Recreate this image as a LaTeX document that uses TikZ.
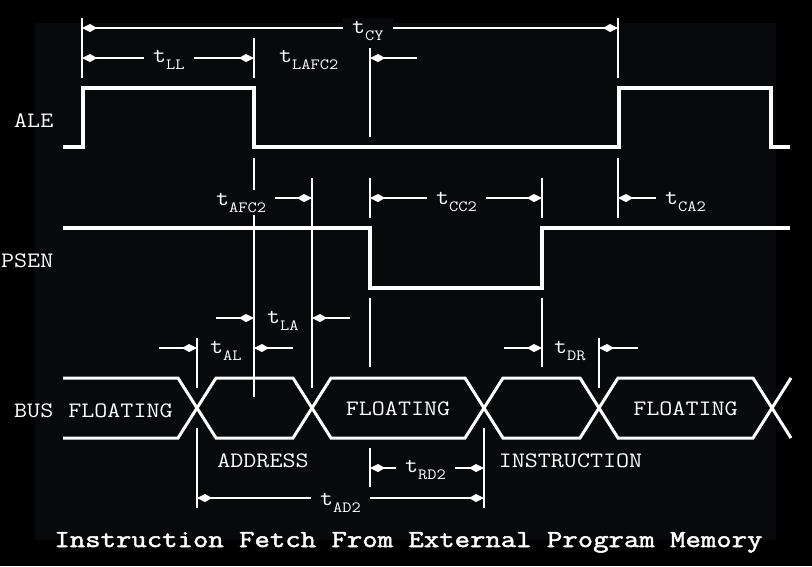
\documentclass[tikz,border=0pt]{standalone}
\usepackage{fontspec}
\setmainfont[FakeStretch=1.15]{Latin Modern Mono}
\newfontfamily\captionfont[FakeStretch=1.22, FakeBold=2]{Latin Modern Mono}
\usepackage{xcolor}
\usetikzlibrary{arrows.meta}
\definecolor{PanelBG}{RGB}{8,9,11}
\newcommand\tsub[1]{t\raisebox{-7pt}{\fontsize{15.6}{15.6}\selectfont #1}}

\begin{document}
\begin{tikzpicture}[
  x=1pt, y=-1pt,
  sig/.style={draw=white, line width=3.3pt, line join=miter},
  bus/.style={draw=white, line width=3pt, line join=miter},
  tick/.style={draw=white, line width=1.8pt},
  dim/.style={draw=white, line width=1.8pt, -{Kite[length=15pt, width=8pt, inset=7pt]}},
  dimboth/.style={draw=white, line width=1.8pt,
                  {Kite[length=15pt, width=8pt, inset=7pt]}-{Kite[length=15pt, width=8pt, inset=7pt]}},
  tlbl/.style={text=white, fill=PanelBG, inner xsep=9pt, inner ysep=3pt, anchor=base west,
               font=\fontsize{22}{22}\selectfont},
  signame/.style={text=white, inner sep=0pt, anchor=base east, font=\fontsize{22}{22}\selectfont},
  buslbl/.style={text=white, inner sep=0pt, anchor=base, font=\fontsize{22}{22}\selectfont},
]
\useasboundingbox (0,0) rectangle (812,566);
\fill[black] (0,0) rectangle (812,566);
\fill[PanelBG] (35,23) rectangle (776,540);

%% Signal names
\node[signame] (ale)  at (53.5,127) {ALE};
\node[signame] (psen) at (53.5,267) {PSEN};
\node[signame] (bus)  at (53.5,417) {BUS};

%% ALE and PSEN
\draw[sig] (63,147) -- (83,147) -- (83,88) -- (254,88) -- (254,147) -- (619,147)
  -- (619,88) -- (771,88) -- (771,147) -- (790,147);
\draw[sig] (63,228) -- (370,228) -- (370,288) -- (542,288) -- (542,228) -- (790,228);

%% Bus
\draw[bus] (63,378) -- (178,378) -- (216,438) -- (293,438) -- (331,378) -- (465,378)
  -- (503,438) -- (580,438) -- (618,378) -- (753,378) -- (791,438);
\draw[bus] (63,438) -- (178,438) -- (216,378) -- (293,378) -- (331,438) -- (465,438)
  -- (503,378) -- (580,378) -- (618,438) -- (753,438) -- (791,378);
\node[buslbl] (float1) at (120.5,417) {FLOATING};
\node[buslbl] (float2) at (398,415) {FLOATING};
\node[buslbl] (float3) at (685.5,415) {FLOATING};
\node[buslbl] (addr)   at (263,467) {ADDRESS};
\node[buslbl] (instr)  at (570.5,467) {INSTRUCTION};

%% Extension lines
\foreach \x/\ya/\yb in {82/18/78, 254/38/78, 370/48/137, 618/18/78,
                        254/158/397, 312/178/388, 370/178/218, 618/158/218, 542/178/218,
                        370/298/367, 542/298/367, 197/338/388, 599/338/388,
                        197/428/508, 370/448/487, 484/428/508}
  \draw[tick] (\x,\ya) -- (\x,\yb);

%% Dimension end points
\coordinate (cyA) at (82,28);   \coordinate (cyB) at (618,28);
\coordinate (llA) at (82,58);   \coordinate (llB) at (254,58);
\coordinate (ccA) at (370,198); \coordinate (ccB) at (542,198);
\coordinate (rdA) at (370,468); \coordinate (rdB) at (484,468);
\coordinate (adA) at (197,498); \coordinate (adB) at (484,498);

%% Two-sided dimensions
\draw[dimboth] (cyA) -- (cyB);
\draw[dimboth] (llA) -- (llB);
\draw[dimboth] (ccA) -- (ccB);
\draw[dimboth] (rdA) -- (rdB);
\draw[dimboth] (adA) -- (adB);

%% One-sided dimensions
\draw[dim] (417,58) -- (370,58);
\draw[dim] (274,198) -- (312,198);
\draw[dim] (657,198) -- (618,198);
\draw[dim] (216,318) -- (254,318);
\draw[dim] (350,318) -- (312,318);
\draw[dim] (159,348) -- (197,348);
\draw[dim] (293,348) -- (254,348);
\draw[dim] (504,348) -- (542,348);
\draw[dim] (638,348) -- (599,348);

%% Timing labels
\node[tlbl] (tcy)   at (343,33)  {\tsub{CY}};
\node[tlbl] (tll)   at (144,62)  {\tsub{LL}};
\node[tlbl] (tlafc) at (270,62)  {\tsub{LAFC2}};
\node[tlbl] (tafc)  at (207,205) {\tsub{AFC2}};
\node[tlbl] (tcc)   at (427,204) {\tsub{CC2}};
\node[tlbl] (tca)   at (656,204) {\tsub{CA2}};
\node[tlbl] (tla)   at (258,323) {\tsub{LA}};
\node[tlbl] (tal)   at (201,353) {\tsub{AL}};
\node[tlbl] (tdr)   at (545,353) {\tsub{DR}};
\node[tlbl] (trd)   at (396,472) {\tsub{RD2}};
\node[tlbl] (tad)   at (311,505) {\tsub{AD2}};

%% Caption
\node[text=white, inner sep=0pt, anchor=base, font=\fontsize{24.5}{24.5}\captionfont]
  (caption) at (408.5,547) {Instruction Fetch From External Program Memory};
\end{tikzpicture}
\end{document}
